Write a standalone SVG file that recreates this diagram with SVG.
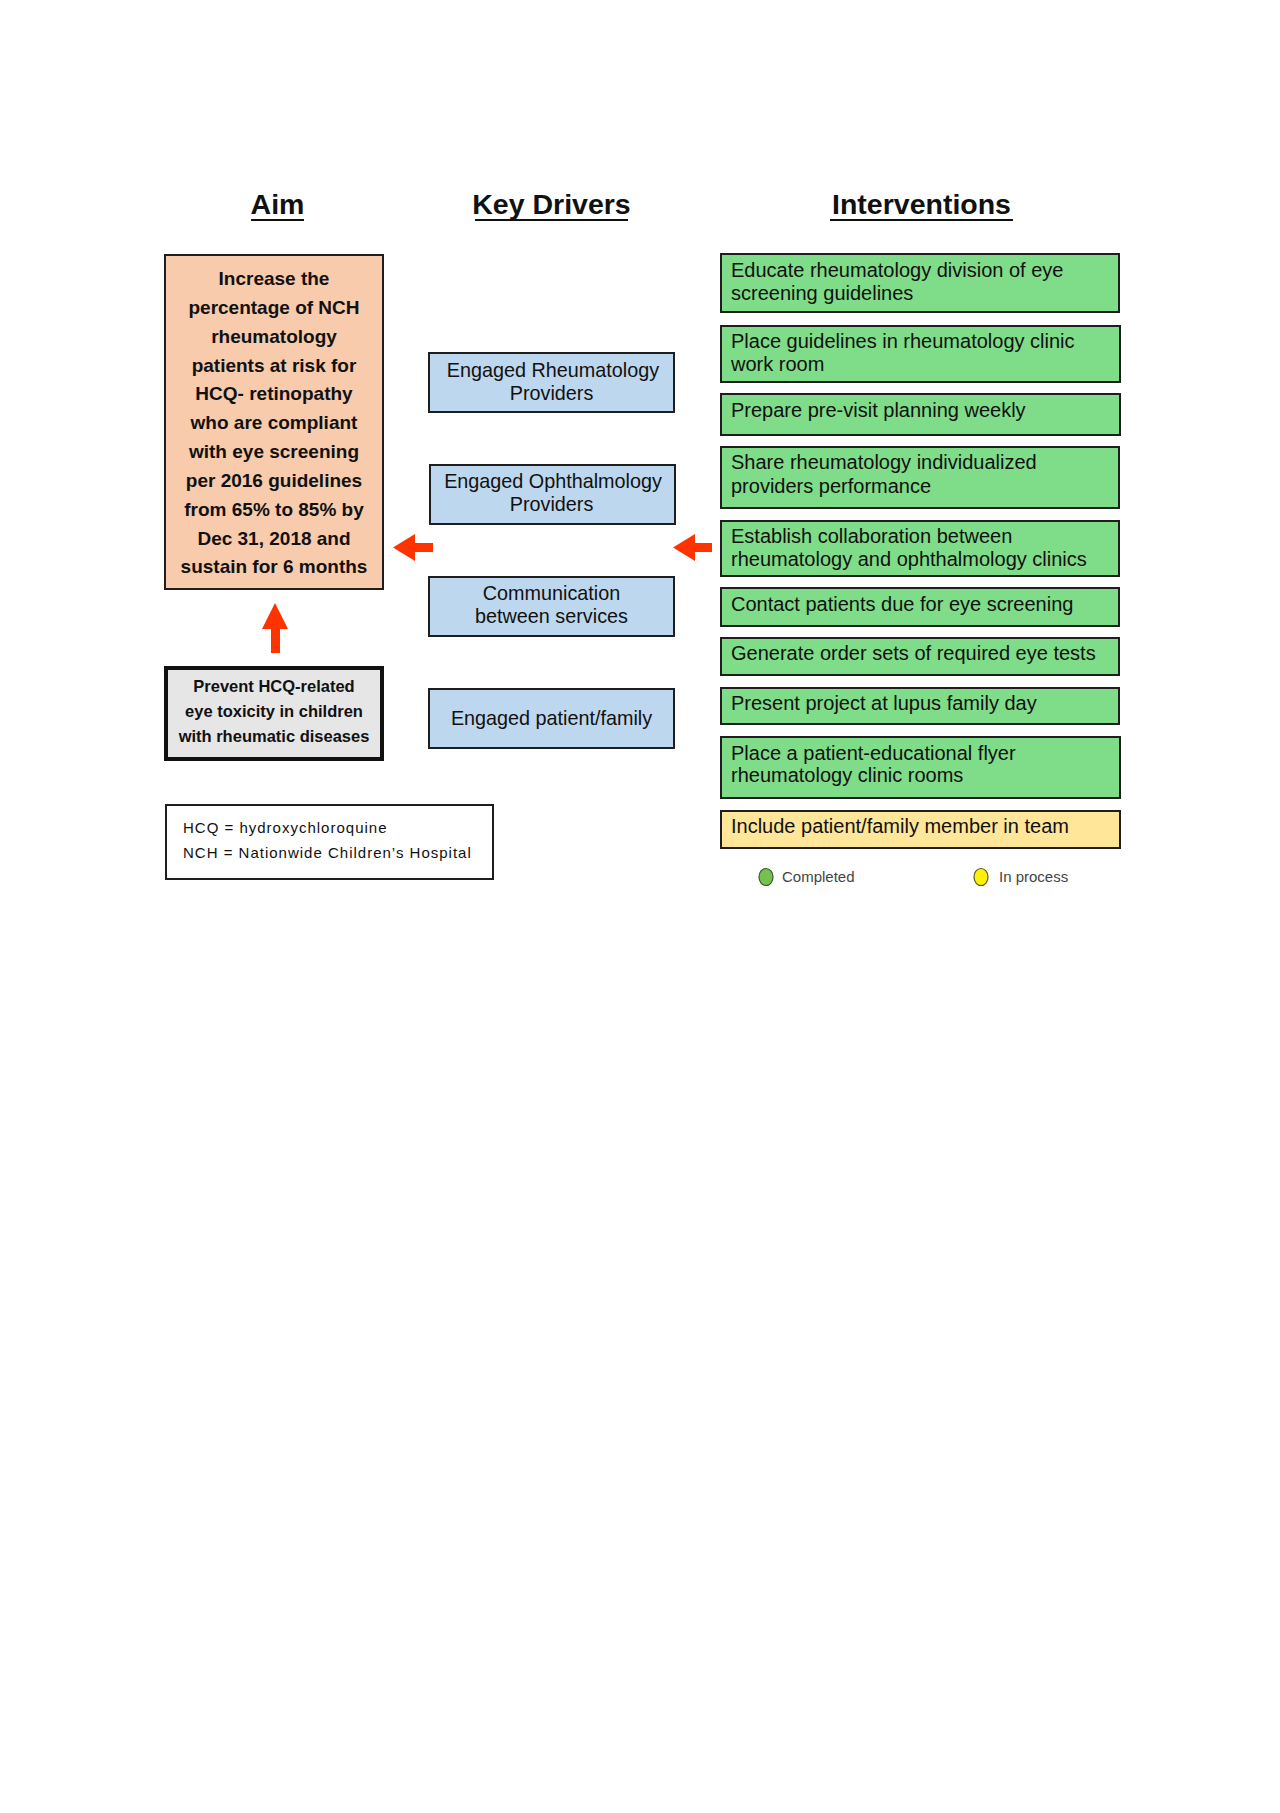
<svg xmlns="http://www.w3.org/2000/svg" width="1280" height="1813" viewBox="0 0 1280 1813">
<style>
text{font-family:"Liberation Sans",Arial,sans-serif;fill:#111}
.h{font-size:28.5px;font-weight:bold;text-anchor:middle}
.aim{font-size:19px;font-weight:bold;text-anchor:middle}
.drv{font-size:19.8px;text-anchor:middle}
.iv{font-size:20px}
.box{stroke:#1e1e1e;stroke-width:2}
.green{fill:#7FDC88}
.blue{fill:#BDD7EE}
.arrow{fill:#FF3300}
</style>
<rect width="1280" height="1813" fill="#fff"/>
<g id="headings">
<text class="h" x="277.5" y="214">Aim</text>
<line x1="251" y1="220" x2="304" y2="220" stroke="#111" stroke-width="2.2"/>
<text class="h" x="551.5" y="214">Key Drivers</text>
<line x1="475" y1="220" x2="628" y2="220" stroke="#111" stroke-width="2.2"/>
<text class="h" x="921.5" y="214">Interventions</text>
<line x1="830" y1="220" x2="1013" y2="220" stroke="#111" stroke-width="2.2"/>
</g>
<g id="aim">
<rect class="box" x="165" y="255" width="218" height="334" fill="#F8CBAD"/>
<text class="aim" x="274" y="285">Increase the</text>
<text class="aim" x="274" y="314">percentage of NCH</text>
<text class="aim" x="274" y="343">rheumatology</text>
<text class="aim" x="274" y="372">patients at risk for</text>
<text class="aim" x="274" y="400">HCQ- retinopathy</text>
<text class="aim" x="274" y="429">who are compliant</text>
<text class="aim" x="274" y="458">with eye screening</text>
<text class="aim" x="274" y="487">per 2016 guidelines</text>
<text class="aim" x="274" y="516">from 65% to 85% by</text>
<text class="aim" x="274" y="545">Dec 31, 2018 and</text>
<text class="aim" x="274" y="573">sustain for 6 months</text>
</g>
<g id="goal">
<rect x="166" y="668" width="216" height="91" fill="#E7E6E6" stroke="#111" stroke-width="4"/>
<text x="274" y="692" font-size="16.5" font-weight="bold" text-anchor="middle">Prevent HCQ-related</text>
<text x="274" y="717" font-size="16.5" font-weight="bold" text-anchor="middle">eye toxicity in children</text>
<text x="274" y="742" font-size="16.5" font-weight="bold" text-anchor="middle">with rheumatic diseases</text>
</g>
<g id="abbrev">
<rect x="166" y="805" width="327" height="74" fill="#fff" stroke="#1e1e1e" stroke-width="2"/>
<text x="183" y="833" font-size="15" letter-spacing="1">HCQ = hydroxychloroquine</text>
<text x="183" y="858" font-size="15" letter-spacing="1">NCH = Nationwide Children’s Hospital</text>
</g>
<g id="driver-rheum">
<rect class="box blue" x="429" y="353" width="245" height="59"/>
<text class="drv" x="553" y="377">Engaged Rheumatology</text>
<text class="drv" x="551.5" y="400">Providers</text>
</g>
<g id="driver-ophth">
<rect class="box blue" x="430" y="465" width="245" height="59"/>
<text class="drv" x="553" y="488">Engaged Ophthalmology</text>
<text class="drv" x="551.5" y="511">Providers</text>
</g>
<g id="driver-comm">
<rect class="box blue" x="429" y="577" width="245" height="59"/>
<text class="drv" x="551.5" y="600">Communication</text>
<text class="drv" x="551.5" y="623">between services</text>
</g>
<g id="driver-patient">
<rect class="box blue" x="429" y="689" width="245" height="59"/>
<text class="drv" x="551.5" y="725">Engaged patient/family</text>
</g>
<g id="int-educate">
<rect class="box green" x="721" y="254" width="398" height="58"/>
<text class="iv" x="731" y="277">Educate rheumatology division of eye</text>
<text class="iv" x="731" y="300">screening guidelines</text>
</g>
<g id="int-place-guidelines">
<rect class="box green" x="721" y="326" width="399" height="56"/>
<text class="iv" x="731" y="348">Place guidelines in rheumatology clinic</text>
<text class="iv" x="731" y="371">work room</text>
</g>
<g id="int-prepare">
<rect class="box green" x="721" y="394" width="399" height="41"/>
<text class="iv" x="731" y="417">Prepare pre-visit planning weekly</text>
</g>
<g id="int-share">
<rect class="box green" x="721" y="447" width="398" height="61"/>
<text class="iv" x="731" y="469">Share rheumatology individualized</text>
<text class="iv" x="731" y="493">providers performance</text>
</g>
<g id="int-establish">
<rect class="box green" x="721" y="521" width="398" height="55"/>
<text class="iv" x="731" y="543">Establish collaboration between</text>
<text class="iv" x="731" y="566">rheumatology and ophthalmology clinics</text>
</g>
<g id="int-contact">
<rect class="box green" x="721" y="588" width="398" height="38"/>
<text class="iv" x="731" y="611">Contact patients due for eye screening</text>
</g>
<g id="int-generate">
<rect class="box green" x="721" y="638" width="398" height="37"/>
<text class="iv" x="731" y="660">Generate order sets of required eye tests</text>
</g>
<g id="int-present">
<rect class="box green" x="721" y="688" width="398" height="36"/>
<text class="iv" x="731" y="710">Present project at lupus family day</text>
</g>
<g id="int-flyer">
<rect class="box green" x="721" y="737" width="399" height="61"/>
<text class="iv" x="731" y="760">Place a patient-educational flyer</text>
<text class="iv" x="731" y="782">rheumatology clinic rooms</text>
</g>
<g id="int-include">
<rect class="box" x="721" y="811" width="399" height="37" fill="#FFE699"/>
<text class="iv" x="731" y="833">Include patient/family member in team</text>
</g>
<g id="legend">
<ellipse cx="766" cy="877" rx="7" ry="8.5" fill="#77BF4E" stroke="#3a5a2a" stroke-width="1.2"/>
<text x="782" y="882" font-size="15" style="fill:#444">Completed</text>
<ellipse cx="981" cy="877" rx="7" ry="8.5" fill="#FFF200" stroke="#5a5a20" stroke-width="1.2"/>
<text x="999" y="882" font-size="15" style="fill:#444">In process</text>
</g>
<g id="connectors">
<polygon class="arrow" points="393,547.5 415,534 415,543 433,543 433,552 415,552 415,561"/>
<polygon class="arrow" points="673,547.5 695,534 695,543 712,543 712,552 695,552 695,561"/>
<polygon class="arrow" points="275,603 288,629 280,629 280,653 271,653 271,629 262,629"/>
</g>
</svg>
